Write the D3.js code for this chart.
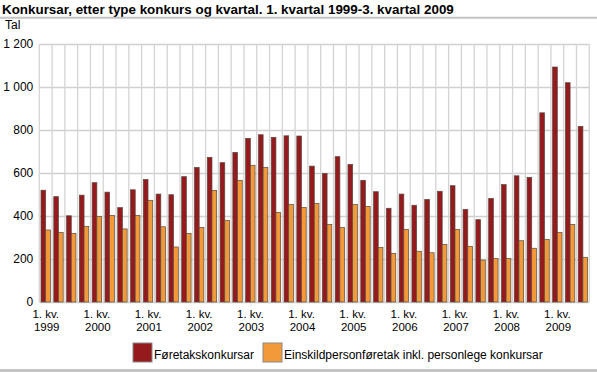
<!DOCTYPE html>
<html>
<head>
<meta charset="utf-8">
<script src="https://cdn.jsdelivr.net/npm/d3@7"></script>
<style>
html,body{margin:0;padding:0;background:#fff;}
svg{display:block;font-family:"Liberation Sans",Arial,sans-serif;}
</style>
</head>
<body>
<svg id="chart" width="597" height="372"></svg>
<script>
const title = "Konkursar, etter type konkurs og kvartal. 1. kvartal 1999-3. kvartal 2009";
const yLabel = "Tal";
const years = [1999,2000,2001,2002,2003,2004,2005,2006,2007,2008,2009];
const quarters = [1,2,3,4];
const seriesNames = ["Føretakskonkursar","Einskildpersonføretak inkl. personlege konkursar"];
const foretak = [520,490,401,497,555,511,439,522,570,502,499,583,626,673,648,696,761,778,766,773,772,632,598,676,640,566,513,436,502,450,477,515,541,431,383,482,546,587,580,880,1093,1020,817];
const einskild = [335,324,319,352,398,403,340,403,473,350,256,319,347,519,380,566,636,626,417,454,440,459,361,347,454,445,254,226,338,236,229,268,338,259,195,203,203,285,250,291,324,361,208];
const yTicks = [0,200,400,600,800,1000,1200];
const colors = ["#951a1e","#f29a3a"];

(function(){
// categories: 1. kv. 1999 ... 3. kv. 2009
const cats = [];
years.forEach(y => quarters.forEach(q => { if (cats.length < foretak.length) cats.push(q + "-" + y); }));
const data = cats.map((c,i) => ({cat:c, vals:[foretak[i], einskild[i]]}));

const svg = d3.select("#chart");
const mLeft = 39.3, mRight = 589.3, mTop = 44, mBottom = 302;

const x = d3.scaleBand().domain(cats).range([mLeft,mRight]).padding(0);
const xs = d3.scaleBand().domain([0,1]).range([0,x.bandwidth()]).paddingInner(0).paddingOuter(0.36);
const y = d3.scaleLinear().domain([0,1200]).range([mBottom,mTop]);

// title
svg.append("text").attr("x",2).attr("y",13.5).attr("font-size",13.4).attr("font-weight","bold").attr("fill","#000").text(title);
svg.append("line").attr("x1",0).attr("x2",597).attr("y1",17.7).attr("y2",17.7).attr("stroke","#c4c4c4").attr("stroke-width",2);

// y label
svg.append("text").attr("x",5).attr("y",29.3).attr("font-size",12).attr("fill","#000").text(yLabel);

// grid horizontal
svg.append("g").selectAll("line").data(yTicks).join("line")
  .attr("x1",mLeft).attr("x2",mRight)
  .attr("y1",d=>Math.round(y(d))+0.5).attr("y2",d=>Math.round(y(d))+0.5)
  .attr("stroke","#d0d0d0").attr("stroke-width",1.3);
// grid vertical
const vpos = cats.map(c=>x(c)).concat([mRight]);
svg.append("g").selectAll("line").data(vpos).join("line")
  .attr("x1",d=>d).attr("x2",d=>d).attr("y1",y(1200)).attr("y2",mBottom)
  .attr("stroke","#d4d4d4").attr("stroke-width",1.3);

// y axis labels
const yAxis = d3.axisLeft(y).tickValues(yTicks).tickSize(0).tickPadding(0)
  .tickFormat(d => d3.format(",")(d).replace(/,/g," "));
const gy = svg.append("g").attr("transform",`translate(${mLeft-6},0)`).call(yAxis);
gy.select(".domain").remove();
gy.selectAll("text").attr("font-size",12).attr("fill","#000").attr("font-family","'Liberation Sans',Arial,sans-serif");

// bars
const groups = svg.append("g").selectAll("g").data(data).join("g")
  .attr("transform",d=>`translate(${x(d.cat)},0)`);
groups.selectAll("rect").data(d=>d.vals.map((v,k)=>({k,v}))).join("rect")
  .attr("x",d=>xs(d.k)).attr("width",xs.bandwidth())
  .attr("y",d=>y(d.v)).attr("height",d=>mBottom-y(d.v))
  .attr("fill",d=>colors[d.k]).attr("stroke","#5a4a40").attr("stroke-width",0.7);

// x axis labels (only 1st quarter), two lines as separate texts
const q1 = cats.filter(c=>c.startsWith("1-"));
const gx = svg.append("g").attr("transform",`translate(0,${mBottom})`)
  .call(d3.axisBottom(x).tickValues(q1).tickSize(0).tickFormat(""));
gx.select(".domain").remove();
gx.selectAll(".tick").each(function(c){
  const tk = d3.select(this);
  tk.append("text").attr("fill","#000").attr("font-size",11.5).attr("text-anchor","middle")
    .attr("font-family","'Liberation Sans',Arial,sans-serif").attr("x",0).attr("y",15.6).text("1. kv.");
  tk.append("text").attr("fill","#000").attr("font-size",11.5).attr("text-anchor","middle")
    .attr("font-family","'Liberation Sans',Arial,sans-serif").attr("x",1).attr("y",28.6).text(c.split("-")[1]);
});

// legend
const legX = [133,263];
const leg = svg.append("g").selectAll("g").data(seriesNames).join("g")
  .attr("transform",(d,i)=>`translate(${legX[i]},343)`);
leg.append("rect").attr("width",19).attr("height",19)
  .attr("fill",(d,i)=>colors[i]).attr("stroke","#888").attr("stroke-width",1);
leg.append("text").attr("x",21).attr("y",16).attr("font-size",12).attr("fill","#000").text(d=>d);

// bottom line
svg.append("line").attr("x1",0).attr("x2",597).attr("y1",370.5).attr("y2",370.5).attr("stroke","#c4c4c4").attr("stroke-width",3);
})();
</script>
</body>
</html>
